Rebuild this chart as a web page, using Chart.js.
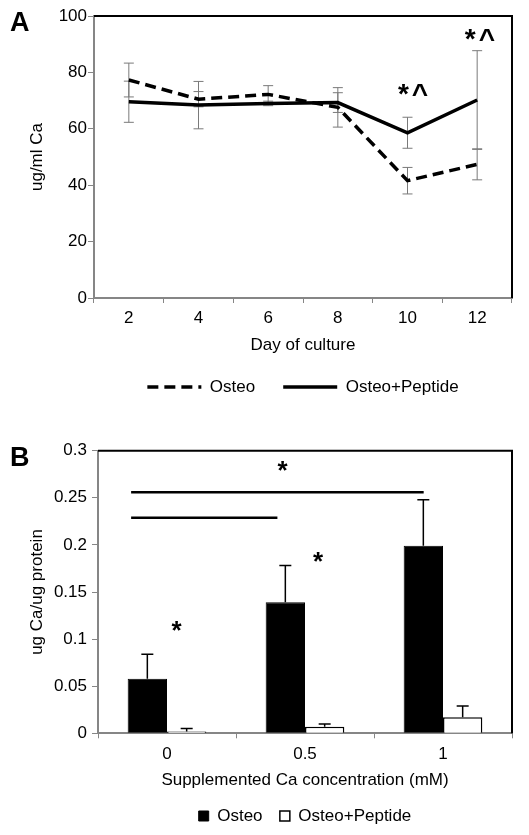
<!DOCTYPE html>
<html>
<head>
<meta charset="utf-8">
<script src="https://cdn.jsdelivr.net/npm/chart.js@4"></script>
<style>
  body { margin: 0; background: #fff; }
  .panel { position: absolute; left: 0; width: 529px; }
  #boxA { top: 0; height: 410px; }
  #boxB { top: 410px; height: 425px; }
  .tag { position: absolute; left: 10px; font: bold 27px 'Liberation Sans', Arial, sans-serif; line-height: 27px; }
</style>
</head>
<body>
<div class="panel" id="boxA"><canvas id="chartA"></canvas></div>
<div class="panel" id="boxB"><canvas id="chartB"></canvas></div>
<div class="tag" style="top:9px">A</div>
<div class="tag" style="top:444px">B</div>
<script>
// panel A - Ca per ml over days of culture
const days = ['2', '4', '6', '8', '10', '12'];
const osteoA = [77.3, 70.5, 72.2, 67.6, 41.6, 47.4];
const osteoErrA = [6.0, 2.7, 3.1, 7.0, 4.7, 5.5];
const peptideA = [69.6, 68.4, 69.0, 69.3, 58.6, 70.2];
const peptideErrA = [7.3, 8.4, 0.8, 3.5, 5.5, 17.5];
// significance marks, in category index / y value units
const marksA = [{ x: 4.08, y: 74.6, text: '*^' }, { x: 5.04, y: 94.1, text: '*^' }];

// panel B - Ca per protein vs supplemented Ca
const conc = ['0', '0.5', '1'];
const osteoB = [0.058, 0.139, 0.199];
const osteoErrB = [0.026, 0.039, 0.049];
const peptideB = [0.002, 0.007, 0.017];
const peptideErrB = [0.003, 0.003, 0.012];
const sigLinesB = [{ from: -0.26, to: 1.86, y: 0.2558 }, { from: -0.26, to: 0.80, y: 0.2289 }];
const starsB = [{ x: 0.837, y: 0.285 }, { x: 1.094, y: 0.189 }, { x: 0.069, y: 0.116 }];

const axisGray = '#868686';
Chart.defaults.font.family = "'Liberation Sans', Arial, sans-serif";
Chart.defaults.font.size = 17;
Chart.defaults.color = '#000';

// black top + right edges of the plot frame
const frame = {
	id: 'frame',
	afterDraw(chart) {
		const { ctx, chartArea: a } = chart;
		ctx.save();
		ctx.strokeStyle = '#000';
		ctx.lineWidth = 2;
		ctx.beginPath();
		ctx.moveTo(a.left, a.top);
		ctx.lineTo(a.right, a.top);
		ctx.lineTo(a.right, a.bottom);
		ctx.stroke();
		ctx.restore();
	}
};

const whiskersA = {
	id: 'whiskersA',
	beforeDatasetsDraw(chart) {
		const { ctx, scales: { y } } = chart;
		ctx.save();
		ctx.strokeStyle = '#7a7a7a';
		ctx.lineWidth = 1;
		chart.data.datasets.forEach((ds, i) => {
			chart.getDatasetMeta(i).data.forEach((pt, j) => {
				const hi = y.getPixelForValue(ds.data[j] + ds.errors[j]);
				const lo = y.getPixelForValue(ds.data[j] - ds.errors[j]);
				ctx.beginPath();
				ctx.moveTo(pt.x, hi); ctx.lineTo(pt.x, lo);
				ctx.moveTo(pt.x - 5, hi); ctx.lineTo(pt.x + 5, hi);
				ctx.moveTo(pt.x - 5, lo); ctx.lineTo(pt.x + 5, lo);
				ctx.stroke();
			});
		});
		ctx.restore();
	},
	afterDatasetsDraw(chart) {
		const { ctx, scales: { x, y } } = chart;
		const size = 28;
		ctx.save();
		ctx.font = 'bold ' + size + 'px ' + Chart.defaults.font.family;
		ctx.letterSpacing = '3px';
		ctx.fillStyle = '#000';
		ctx.textAlign = 'center';
		ctx.textBaseline = 'alphabetic';
		marksA.forEach(m => {
			ctx.fillText(m.text, x.getPixelForValue(m.x) + 1.5, y.getPixelForValue(m.y) + size * 0.56);
		});
		ctx.restore();
	}
};

const extrasB = {
	id: 'extrasB',
	afterDatasetsDraw(chart) {
		const { ctx, scales: { x, y } } = chart;
		ctx.save();
		ctx.strokeStyle = '#000';
		ctx.lineWidth = 1.5;
		chart.data.datasets.forEach((ds, i) => {
			chart.getDatasetMeta(i).data.forEach((bar, j) => {
				const top = y.getPixelForValue(ds.data[j]);
				const hi = y.getPixelForValue(ds.data[j] + ds.errors[j]);
				ctx.beginPath();
				ctx.moveTo(bar.x, top); ctx.lineTo(bar.x, hi);
				ctx.moveTo(bar.x - 6, hi); ctx.lineTo(bar.x + 6, hi);
				ctx.stroke();
			});
		});
		ctx.lineWidth = 2.5;
		sigLinesB.forEach(l => {
			const py = y.getPixelForValue(l.y);
			ctx.beginPath();
			ctx.moveTo(x.getPixelForValue(l.from), py);
			ctx.lineTo(x.getPixelForValue(l.to), py);
			ctx.stroke();
		});
		const size = 26;
		ctx.font = 'bold ' + size + 'px ' + Chart.defaults.font.family;
		ctx.fillStyle = '#000';
		ctx.textAlign = 'center';
		ctx.textBaseline = 'alphabetic';
		starsB.forEach(s => {
			ctx.fillText('*', x.getPixelForValue(s.x), y.getPixelForValue(s.y) + size * 0.56);
		});
		ctx.restore();
	}
};

new Chart(document.getElementById('chartA'), {
	type: 'line',
	data: {
		labels: days,
		datasets: [{
			label: 'Osteo',
			data: osteoA,
			errors: osteoErrA,
			borderColor: '#000',
			borderWidth: 3.5,
			borderDash: [11, 6],
			pointRadius: 0,
			tension: 0
		}, {
			label: 'Osteo+Peptide',
			data: peptideA,
			errors: peptideErrA,
			borderColor: '#000',
			borderWidth: 3.5,
			pointRadius: 0,
			tension: 0
		}]
	},
	options: {
		responsive: true,
		maintainAspectRatio: false,
		animation: false,
		layout: { padding: { top: 16, right: 17, left: 0, bottom: 4.5 } },
		plugins: {
			tooltip: { enabled: false },
			legend: {
				position: 'bottom',
				fullSize: false,
				labels: {
					usePointStyle: true,
					pointStyleWidth: 54,
					padding: 28,
					font: { size: 17 },
					generateLabels: chart => chart.data.datasets.map((ds, i) => ({
						text: ds.label,
						datasetIndex: i,
						pointStyle: 'line',
						strokeStyle: '#000',
						fillStyle: '#000',
						lineWidth: ds.borderWidth,
						lineDash: ds.borderDash || [],
						lineCap: 'butt',
						fontColor: '#000',
						hidden: false
					}))
				}
			}
		},
		scales: {
			x: {
				offset: true,
				grid: { display: true, drawOnChartArea: false, offset: true, tickLength: 5, color: axisGray },
				border: { color: axisGray, width: 2 },
				ticks: { padding: 5, color: '#000' },
				title: { display: true, text: 'Day of culture', padding: { top: 0, bottom: -4.7 } },
				afterFit(s) { s.height = 52.5; }
			},
			y: {
				min: 0,
				max: 100,
				ticks: { stepSize: 20, padding: 1, color: '#000' },
				grid: { display: true, drawOnChartArea: false, tickLength: 6, color: axisGray },
				border: { color: axisGray, width: 2 },
				title: { display: true, text: 'ug/ml Ca', padding: { top: 26.8, bottom: 0 } },
				afterFit(s) { s.width = 94; }
			}
		}
	},
	plugins: [whiskersA, frame]
});

new Chart(document.getElementById('chartB'), {
	type: 'bar',
	data: {
		labels: conc,
		datasets: [{
			label: 'Osteo',
			data: osteoB,
			errors: osteoErrB,
			backgroundColor: '#000',
			borderColor: '#000',
			borderWidth: 1
		}, {
			label: 'Osteo+Peptide',
			data: peptideB,
			errors: peptideErrB,
			backgroundColor: '#fff',
			borderColor: '#000',
			borderWidth: 1.5
		}]
	},
	options: {
		responsive: true,
		maintainAspectRatio: false,
		animation: false,
		categoryPercentage: 0.57,
		barPercentage: 1,
		layout: { padding: { top: 40.7, right: 17, left: 0, bottom: 0.5 } },
		plugins: {
			tooltip: { enabled: false },
			legend: {
				position: 'bottom',
				fullSize: false,
				labels: { boxWidth: 10, boxHeight: 10, padding: 17.3, font: { size: 17 } }
			}
		},
		scales: {
			x: {
				grid: { display: true, drawOnChartArea: false, offset: true, tickLength: 5, color: axisGray },
				border: { color: axisGray, width: 2 },
				ticks: { padding: 5.5, color: '#000' },
				title: { display: true, text: 'Supplemented Ca concentration (mM)', padding: { top: 0, bottom: 0 } },
				afterFit(s) { s.height = 56.9; }
			},
			y: {
				min: 0,
				max: 0.3,
				ticks: { stepSize: 0.05, padding: 5, color: '#000', callback: v => +v.toFixed(2) },
				grid: { display: true, drawOnChartArea: false, tickLength: 6, color: axisGray },
				border: { color: axisGray, width: 2 },
				title: { display: true, text: 'ug Ca/ug protein', padding: { top: 26.8, bottom: 0 } },
				afterFit(s) { s.width = 98; }
			}
		}
	},
	plugins: [extrasB, frame]
});
</script>
</body>
</html>
